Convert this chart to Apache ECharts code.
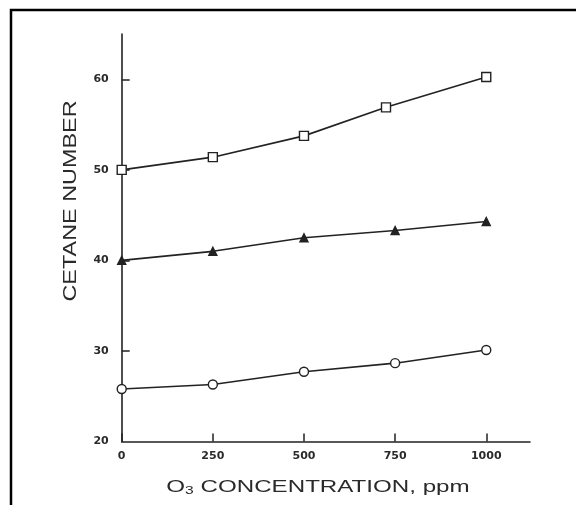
<!DOCTYPE html>
<html>
<head>
<meta charset="utf-8">
<script src="https://cdn.jsdelivr.net/npm/echarts@6/dist/echarts.min.js"></script>
<style>
html, body { margin: 0; padding: 0; background: #fff; }
#chart { width: 576px; height: 505px; }
</style>
</head>
<body>
<div id="chart"></div>
<script>
// O3 concentration, ppm
const ozone = [0, 250, 500, 750, 1000]
const ozoneSquare = [0, 250, 500, 725, 1000]
// cetane numbers
const cetaneSquare = [50.0, 51.4, 53.75, 56.9, 60.25]
const cetaneTriangle = [40.0, 41.0, 42.5, 43.3, 44.3]
const cetaneCircle = [25.8, 26.3, 27.7, 28.65, 30.1]
// tick labels
const xTicks = [0, 250, 500, 750, 1000]
const yTicks = [20, 30, 40, 50, 60]

const ink = '#222'
const pairs = (xs, ys) => xs.map((x, i) => [x, ys[i]])

const chart = echarts.init(document.getElementById('chart'))

const tickStyle = ticks => ({
  show: true,
  inside: true,
  length: 8,
  customValues: ticks,
  lineStyle: { color: ink, width: 1.5 }
})

const labelStyle = (ticks, margin) => ({
  customValues: ticks,
  formatter: v => String(v),
  margin: margin,
  color: '#2a2a2a',
  fontFamily: 'DejaVu Sans',
  fontWeight: 'bold',
  fontSize: 11
})

const lineSeries = (data, symbol, size, filled) => ({
  type: 'line',
  data: data,
  symbol: symbol,
  symbolSize: size,
  clip: false,
  lineStyle: { color: ink, width: 1.6 },
  itemStyle: { color: filled ? ink : '#fff', borderColor: ink, borderWidth: 1.4 },
  emphasis: { disabled: true }
})

const option = {
  backgroundColor: '#fff',
  animation: false,
  grid: { left: 121.7, right: 46, top: 34, bottom: 63.5 },
  xAxis: {
    type: 'value',
    min: 0,
    max: 1120,
    interval: 250,
    splitLine: { show: false },
    axisLine: { lineStyle: { color: ink, width: 1.6 } },
    axisTick: tickStyle(xTicks),
    axisLabel: labelStyle(xTicks, 9)
  },
  yAxis: {
    type: 'value',
    min: 20,
    max: 65,
    interval: 10,
    splitLine: { show: false },
    axisLine: { lineStyle: { color: ink, width: 1.6 } },
    axisTick: tickStyle(yTicks.slice(1)),
    axisLabel: labelStyle(yTicks, 13)
  },
  graphic: [
    {
      type: 'rect',
      shape: { x: 11, y: 10, width: 700, height: 700 },
      style: { fill: 'none', stroke: '#000', lineWidth: 2.5 },
      silent: true
    },
    {
      type: 'text',
      x: 71.5, y: 201,
      rotation: Math.PI / 2,
      scaleX: 1.3,
      style: {
        text: 'CETANE NUMBER',
        font: '18px "Liberation Sans"',
        fill: '#2a2a2a',
        align: 'center',
        verticalAlign: 'middle'
      },
      silent: true
    },
    {
      type: 'text',
      x: 318, y: 487,
      scaleX: 1.42,
      style: {
        text: '{a|O}{s|3}{a| CONCENTRATION, ppm}',
        align: 'center',
        verticalAlign: 'middle',
        rich: {
          a: { font: '17px "Liberation Sans"', fill: '#2a2a2a' },
          s: { font: '11px "Liberation Sans"', fill: '#2a2a2a', padding: [8, 0, 0, 0] }
        }
      },
      silent: true
    }
  ],
  series: [
    lineSeries(pairs(ozoneSquare, cetaneSquare), 'rect', 9, false),
    lineSeries(pairs(ozone, cetaneTriangle), 'triangle', 8, true),
    lineSeries(pairs(ozone, cetaneCircle), 'circle', 9, false)
  ]
}

chart.setOption(option)
</script>
</body>
</html>
